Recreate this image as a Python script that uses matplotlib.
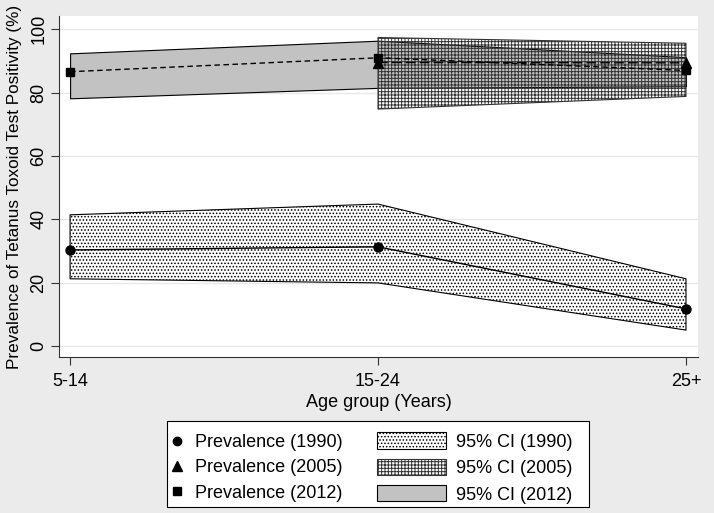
import matplotlib

matplotlib.use("Agg")
import matplotlib.pyplot as plt
import numpy as np
from matplotlib.lines import Line2D
from matplotlib.patches import Patch, Rectangle

plt.rcParams["font.family"] = ["Liberation Sans", "DejaVu Sans"]
plt.rcParams["hatch.linewidth"] = 0.7

age_groups = ["5-14", "15-24", "25+"]

prev_1990 = [30.3, 31.3, 11.7]
low_1990 = [21.2, 19.9, 5.0]
high_1990 = [41.4, 44.8, 21.2]

prev_2005 = [np.nan, 89.5, 89.4]
low_2005 = [np.nan, 74.8, 78.8]
high_2005 = [np.nan, 97.4, 95.6]

prev_2012 = [86.6, 91.0, 87.0]
low_2012 = [78.2, 81.5, 82.0]
high_2012 = [92.4, 96.4, 91.2]

y_ticks = [0, 20, 40, 60, 80, 100]

BG = "#ebebeb"
FS = 13

fig = plt.figure(figsize=(7.14, 5.13), dpi=100, facecolor=BG)
ax = fig.add_axes([59 / 714, 1 - 357 / 513, (698 - 59) / 714, (357 - 16) / 513])
ax.set_facecolor("white")

x = np.arange(len(age_groups))
ax.set_xlim(-0.036, 2.039)
ax.set_ylim(-3.5, 104.2)

ax.fill_between(x, low_2012, high_2012, facecolor="#c2c2c2", edgecolor="black", linewidth=0.8, zorder=2)
x05 = x[1:]
ax.fill_between(x05, low_2005[1:], high_2005[1:], facecolor="none", edgecolor="#333333",
                hatch="+++++", linewidth=0.8, zorder=3)
ax.fill_between(x, low_1990, high_1990, facecolor="white", edgecolor="black",
                hatch=".....", linewidth=0.8, zorder=3)

ax.plot(x, prev_1990, color="black", linewidth=1.0, marker="o", markersize=6.5, zorder=5)
ax.plot(x, prev_2005, color="black", linewidth=1.0, linestyle=(0, (7, 3)), marker="^",
        markersize=7, zorder=5)
ax.plot(x, prev_2012, color="black", linewidth=1.0, linestyle=(0, (4, 2.5)), marker="s",
        markersize=6, zorder=5)

ax.set_yticks(y_ticks)
ax.set_yticklabels([str(v) for v in y_ticks], rotation=90, va="center", fontsize=FS)
ax.set_xticks(x)
ax.set_xticklabels(age_groups, fontsize=FS)
ax.tick_params(axis="both", direction="out", length=5.5, width=0.8, color="#333333")
ax.tick_params(axis="x", pad=6)
ax.tick_params(axis="y", pad=3)
ax.grid(axis="y", color="#e8e8e8", linewidth=1.0, zorder=0)
ax.set_axisbelow(True)
for side in ["top", "right"]:
    ax.spines[side].set_visible(False)
for side in ["left", "bottom"]:
    ax.spines[side].set_color("#333333")
    ax.spines[side].set_linewidth(0.8)

ax.set_xlabel("Age group (Years)", fontsize=FS, labelpad=3)
ax.set_ylabel("Prevalence of Tetanus Toxoid Test Positivity (%)", fontsize=12.3, labelpad=6)

# legend box
fig.patches.append(Rectangle((167 / 714, 1 - 507 / 513), (589 - 167) / 714, (507 - 421) / 513,
                             transform=fig.transFigure, facecolor="white", edgecolor="black",
                             linewidth=0.8, zorder=0))

marker_handles = [
    Line2D([], [], color="black", linestyle="none", marker="o", markersize=6),
    Line2D([], [], color="black", linestyle="none", marker="^", markersize=6.5),
    Line2D([], [], color="black", linestyle="none", marker="s", markersize=5.5),
]
marker_labels = ["Prevalence (1990)", "Prevalence (2005)", "Prevalence (2012)"]
ci_handles = [
    Patch(facecolor="white", edgecolor="black", hatch=".....", linewidth=0.8),
    Patch(facecolor="none", edgecolor="#333333", hatch="+++++", linewidth=0.8),
    Patch(facecolor="#c2c2c2", edgecolor="black", linewidth=0.8),
]
ci_labels = ["95% CI (1990)", "95% CI (2005)", "95% CI (2012)"]

leg1 = fig.legend(marker_handles, marker_labels, loc="center left",
                  bbox_to_anchor=(172 / 714, 1 - 468 / 513), frameon=False, fontsize=FS,
                  handlelength=0.5, handletextpad=0.8, labelspacing=0.45, borderpad=0,
                  borderaxespad=0)
leg2 = fig.legend(ci_handles, ci_labels, loc="center left",
                  bbox_to_anchor=(377 / 714, 1 - 468 / 513), frameon=False, fontsize=FS,
                  handlelength=3.8, handleheight=1.0, handletextpad=0.55, labelspacing=0.45,
                  borderpad=0, borderaxespad=0)

fig.savefig("out.png", dpi=100, facecolor=BG)
